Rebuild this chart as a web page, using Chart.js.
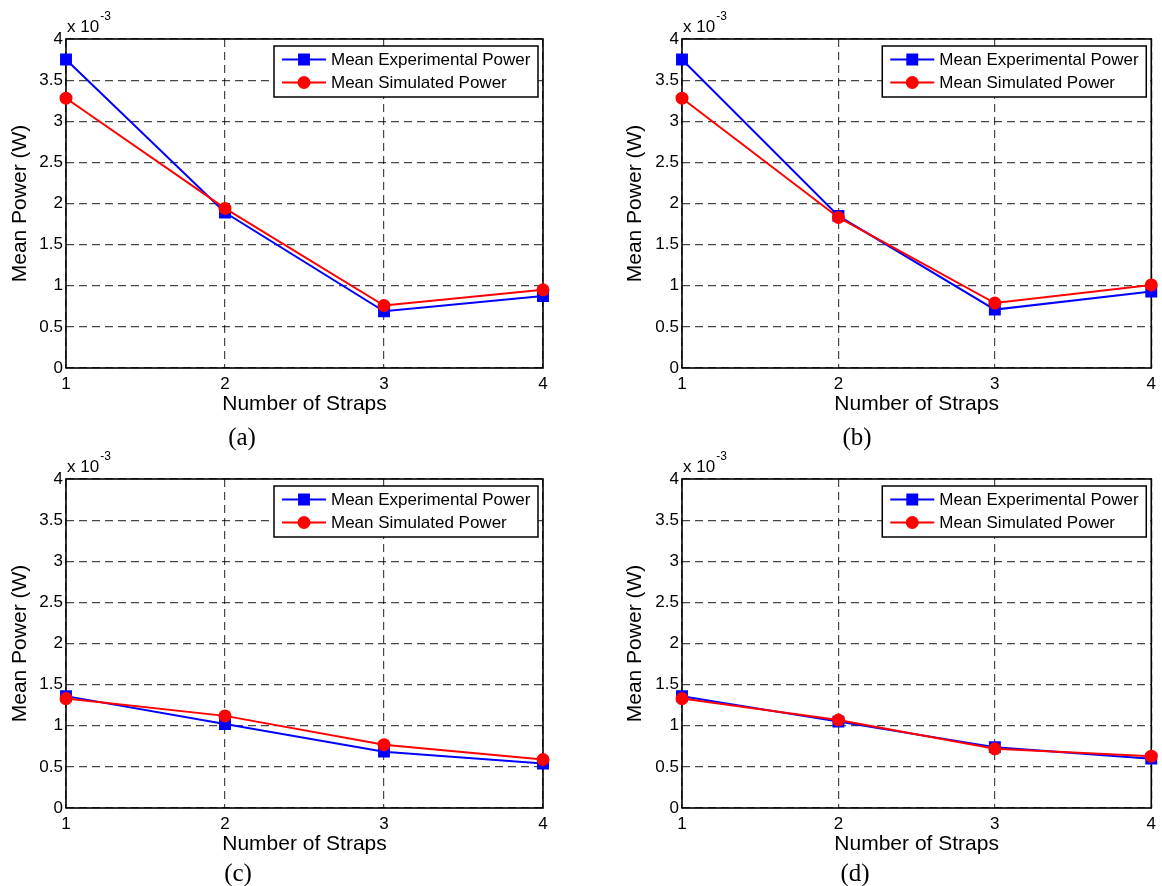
<!DOCTYPE html>
<html><head><meta charset="utf-8">
<script src="https://cdn.jsdelivr.net/npm/chart.js@4.4.0/dist/chart.umd.min.js"></script>
<style>
body{margin:0;background:#fff;width:1162px;height:886px;position:relative;overflow:hidden}
.p{position:absolute}
.lab{position:absolute;font-family:"Liberation Serif","Times New Roman",serif;font-size:25px;color:#000;transform:translate(-50%,-50%);white-space:nowrap}
</style></head><body>
<canvas id="ca" class="p" width="580" height="440" style="left:0;top:0"></canvas>
<canvas id="cb" class="p" width="582" height="440" style="left:580px;top:0"></canvas>
<canvas id="cc" class="p" width="580" height="440" style="left:0;top:440px"></canvas>
<canvas id="cd" class="p" width="582" height="440" style="left:580px;top:440px"></canvas>
<div class="lab" id="la" style="left:242px;top:437px"></div>
<div class="lab" id="lb" style="left:857px;top:437px"></div>
<div class="lab" id="lc" style="left:238px;top:873px"></div>
<div class="lab" id="ld" style="left:855px;top:873px"></div>
<script>
const strapCounts = [1, 2, 3, 4];
const yTicks = [0, 0.5, 1, 1.5, 2, 2.5, 3, 3.5, 4];
const seriesNames = ['Mean Experimental Power', 'Mean Simulated Power'];
const xTitle = 'Number of Straps';
const yTitle = 'Mean Power (W)';
const exponentBase = 'x 10';
const exponentPower = '-3';
const panelLabels = ['(a)', '(b)', '(c)', '(d)'];
// values in units of 1e-3 W
const expA = [3.75, 1.89, 0.69, 0.875];
const simA = [3.28, 1.94, 0.76, 0.95];
const expB = [3.75, 1.85, 0.71, 0.93];
const simB = [3.28, 1.83, 0.79, 1.01];
const expC = [1.36, 1.02, 0.685, 0.54];
const simC = [1.33, 1.12, 0.77, 0.59];
const expD = [1.36, 1.05, 0.74, 0.60];
const simD = [1.33, 1.07, 0.72, 0.63];

Chart.defaults.font.family = '"Liberation Sans", Arial, sans-serif';
Chart.defaults.color = '#000';

const decor = {
  id: 'decor',
  beforeDatasetsDraw(chart) {
    const {ctx, chartArea: a} = chart;
    ctx.save();
    ctx.strokeStyle = '#000';
    ctx.lineWidth = 1.6;
    ctx.setLineDash([]);
    ctx.strokeRect(a.left, a.top, a.right - a.left, a.bottom - a.top);
    ctx.restore();
  },
  afterDatasetsDraw(chart) {
    const {ctx, chartArea: a} = chart;
    ctx.save();
    // exponent label
    ctx.fillStyle = '#000';
    ctx.textBaseline = 'alphabetic';
    ctx.textAlign = 'left';
    ctx.font = '17px "Liberation Sans", Arial, sans-serif';
    ctx.fillText(exponentBase, a.left + 1, a.top - 7);
    const w = ctx.measureText(exponentBase).width;
    ctx.font = '12px "Liberation Sans", Arial, sans-serif';
    ctx.fillText(exponentPower, a.left + w + 2, a.top - 19);
    // legend
    const bw = 264, bh = 51;
    const bx = a.right - 5 - bw, by = a.top + 7;
    ctx.fillStyle = '#fff';
    ctx.fillRect(bx, by, bw, bh);
    ctx.strokeStyle = '#000';
    ctx.lineWidth = 1.5;
    ctx.strokeRect(bx, by, bw, bh);
    chart.data.datasets.forEach((ds, i) => {
      const y = by + 13.5 + i * 23;
      ctx.strokeStyle = ds.borderColor;
      ctx.lineWidth = ds.borderWidth;
      ctx.beginPath();
      ctx.moveTo(bx + 8, y);
      ctx.lineTo(bx + 52, y);
      ctx.stroke();
      ctx.fillStyle = ds.pointBackgroundColor;
      ctx.strokeStyle = ds.pointBorderColor;
      Chart.helpers.drawPoint(ctx, {pointStyle: ds.pointStyle, radius: ds.pointRadius, rotation: 0, borderWidth: 1}, bx + 30, y);
      ctx.fillStyle = '#000';
      ctx.font = '17px "Liberation Sans", Arial, sans-serif';
      ctx.textBaseline = 'middle';
      ctx.textAlign = 'left';
      ctx.fillText(ds.label, bx + 57, y + 1);
    });
    ctx.restore();
  }
};

function makePanel(id, exp, sim, padLeft, yWidth, padRight) {
  const toPts = arr => strapCounts.map((x, i) => ({x: x, y: arr[i]}));
  const gridColor = 'rgba(0,0,0,0.72)';
  new Chart(document.getElementById(id), {
    type: 'line',
    data: {
      datasets: [
        {label: seriesNames[0], data: toPts(exp), borderColor: '#0000ff', backgroundColor: '#0000ff',
         pointBackgroundColor: '#0000ff', pointBorderColor: '#0000ff', pointStyle: 'rect', pointRadius: 7,
         borderWidth: 2, tension: 0, clip: false, order: 1},
        {label: seriesNames[1], data: toPts(sim), borderColor: '#ff0000', backgroundColor: '#ff0000',
         pointBackgroundColor: '#ff0000', pointBorderColor: '#ff0000', pointStyle: 'circle', pointRadius: 5.5,
         borderWidth: 2, tension: 0, clip: false, order: 0}
      ]
    },
    options: {
      responsive: false,
      animation: false,
      events: [],
      layout: {padding: {top: 39, left: padLeft, right: padRight, bottom: 0}},
      plugins: {legend: {display: false}, tooltip: {enabled: false}},
      scales: {
        x: {
          type: 'linear', min: strapCounts[0], max: strapCounts[strapCounts.length - 1],
          afterBuildTicks: s => { s.ticks = strapCounts.map(v => ({value: v})); },
          afterFit: s => { s.height = 72; },
          ticks: {font: {size: 17}, padding: 6, maxRotation: 0, callback: v => String(v)},
          grid: {color: gridColor, lineWidth: 1.2, drawTicks: false},
          border: {display: false, dash: [8, 5]},
          title: {display: true, text: xTitle, font: {size: 21}, padding: {top: 0, bottom: 23}}
        },
        y: {
          type: 'linear', min: yTicks[0], max: yTicks[yTicks.length - 1],
          afterBuildTicks: s => { s.ticks = yTicks.map(v => ({value: v})); },
          afterFit: s => { s.width = yWidth; },
          ticks: {font: {size: 17}, padding: 3, callback: v => String(v)},
          grid: {color: gridColor, lineWidth: 1.2, drawTicks: false},
          border: {display: false, dash: [8, 5]},
          title: {display: true, text: yTitle, font: {size: 21}, padding: {top: 7.3, bottom: 0}}
        }
      }
    },
    plugins: [decor]
  });
}

makePanel('ca', expA, simA, 0, 66, 37);
makePanel('cb', expB, simB, 35, 67, 4);
makePanel('cc', expC, simC, 0, 66, 37);
makePanel('cd', expD, simD, 35, 67, 4);
['la', 'lb', 'lc', 'ld'].forEach((id, i) => { document.getElementById(id).textContent = panelLabels[i]; });
</script>
</body></html>
